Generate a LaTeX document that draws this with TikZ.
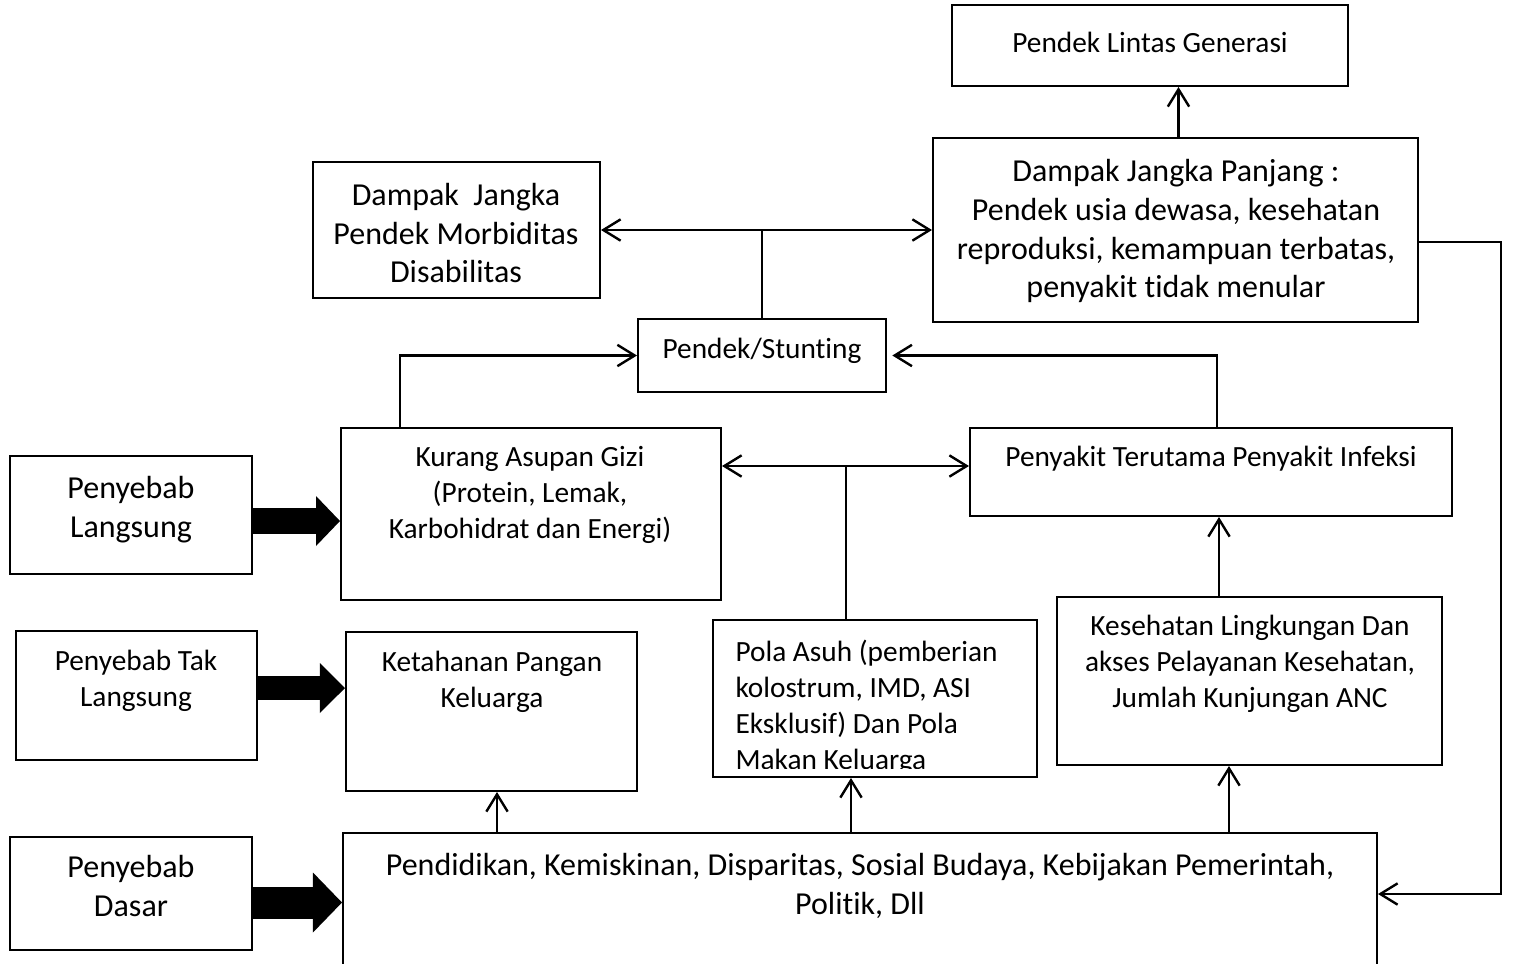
\documentclass[tikz,border=0pt]{standalone}
\usepackage{fontspec}
\setmainfont{Carlito}[Ligatures=NoCommon]
\usetikzlibrary{arrows.meta,calc,fit}
\tikzset{
  box/.style={draw,line width=0.75pt,inner sep=0pt},
  big/.style={font=\fontsize{12}{14.6}\selectfont,align=center,inner sep=0pt},
  small/.style={font=\fontsize{11}{13.5}\selectfont,align=center,inner sep=0pt},
  link/.style={line width=0.9pt},
  tip/.style={-{Straight Barb[length=6.5pt,width=8pt]}},
  tips/.style={{Straight Barb[length=6.5pt,width=8pt]}-{Straight Barb[length=6.5pt,width=8pt]}},
  fat/.style n args={3}{line width=#1,-{Triangle[length=#2,width=#3,line width=0pt]}},
}
\begin{document}
\begin{tikzpicture}[x=0.375pt,y=-0.375pt,line join=miter]
\def\W{1519}\def\H{963}
\fill[white] (0,0) rectangle (\W,\H);
\useasboundingbox (0,0) rectangle (\W,\H);
% boxes
\node[box,fit={(952,5) (1348,86)}] (lg) {};
\node[box,fit={(933,138) (1418,322)}] (jp) {};
\node[box,fit={(313,162) (600,298)}] (jk) {};
\node[box,fit={(638,319) (886,392)}] (st) {};
\node[box,fit={(341,428) (721,600)}] (ka) {};
\node[box,fit={(970,428) (1452,516)}] (pi) {};
\node[box,fit={(10,456) (252,574)}] (pl) {};
\node[box,fit={(16,631) (257,760)}] (ptl) {};
\node[box,fit={(346,632) (637,791)}] (kp) {};
\node[box,fit={(713,620) (1037,777)}] (pa) {};
\node[box,fit={(1057,597) (1442,765)}] (kl) {};
\node[box,fit={(10,837) (252,950)}] (pd) {};
\node[box,fit={(343,833) (1377,985)}] (pk) {};
% texts
\node[small] (lgt) at (1150,42) {Pendek Lintas Generasi};
\node[big] (jpt) at (1176,231) {Dampak Jangka Panjang :\\Pendek usia dewasa, kesehatan\\reproduksi, kemampuan terbatas,\\penyakit tidak menular};
\node[big] (jkt) at (456,233) {Dampak~ Jangka\\Pendek Morbiditas\\Disabilitas};
\node[small] (stt) at (762,351) {Pendek/Stunting};
\node[small] (kat) at (530,495) {Kurang Asupan Gizi\\(Protein, Lemak,\\Karbohidrat dan Energi)};
\node[small] (pit) at (1211,459) {Penyakit Terutama Penyakit Infeksi};
\node[big] (plt) at (131,510) {Penyebab\\Langsung};
\node[small] (ptlt) at (136,681) {Penyebab Tak\\Langsung};
\node[small] (kpt) at (492,682) {Ketahanan Pangan\\Keluarga};
\begin{scope}
\clip (713,620) rectangle (1037,768);
\node[small,align=left,anchor=north west] (pat) at (735,640) {Pola Asuh (pemberian\\kolostrum, IMD, ASI\\Eksklusif) Dan Pola\\Makan Keluarga};
\end{scope}
\node[small] (klt) at (1250,664) {Kesehatan Lingkungan Dan\\akses Pelayanan Kesehatan,\\Jumlah Kunjungan ANC};
\node[big] (pdt) at (131,886) {Penyebab\\Dasar};
\node[big] (pkt) at (860,886) {Pendidikan, Kemiskinan, Disparitas, Sosial Budaya, Kebijakan Pemerintah,\\Politik, Dll};
% connectors
\draw[link,tip] ($(jp.north)+(3,0)$) coordinate (jp1) -- (jp1 |- lg.south);
\draw[link,tips] (jk.east) -- (jk.east -| jp.west);
\draw[link] (st.north) -- (st.north |- jk.east);
\draw[link,tip] ($(ka.north west)+(60,0)$) |- (st.west);
\draw[link,tip] ($(pi.north west)+(248,0)$) |- ([xshift=2pt]st.east);
\coordinate (m) at ($(ka.north east)+(0,39)$);
\draw[link,tips] (m) -- (m -| pi.west);
\coordinate (pa1) at ($(pa.north west)+(134,0)$);
\draw[link] (pa1) -- (pa1 |- m);
\draw[link,tip] ($(kl.north west)+(163,0)$) coordinate (kl1) -- (kl1 |- pi.south);
\foreach \dx/\dst in {155/kp,509/pa,887/kl}{
  \coordinate (b) at ($(pk.north west)+(\dx,0)$);
  \draw[link,tip] (b) -- (b |- \dst.south);
}
\draw[link,tip] ($(jp.north east)+(0,105)$) -- ++(82,0) |- ($(pk.north east)+(0,62)$);
% thick arrows
\draw[fat={9.4pt}{9pt}{18.75pt}] ($(pl.east)+(0,6)$) coordinate (f1) -- (f1 -| ka.west);
\draw[fat={9pt}{9.4pt}{18.75pt}] ($(ptl.east)+(0,-7.5)$) coordinate (f2) -- (f2 -| kp.west);
\draw[fat={12pt}{10.9pt}{22.5pt}] ($(pd.east)+(0,9)$) coordinate (f3) -- (f3 -| pk.west);
\end{tikzpicture}
\end{document}
